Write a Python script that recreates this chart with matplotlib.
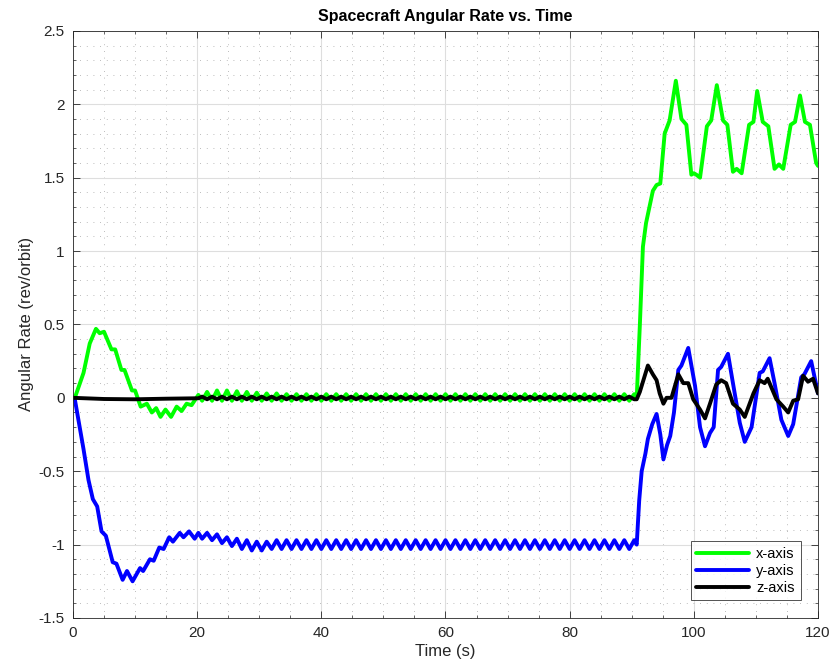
import numpy as np
import matplotlib
matplotlib.use("Agg")
import matplotlib.pyplot as plt
from matplotlib.ticker import MultipleLocator

plt.rcParams["font.family"] = ["Liberation Sans", "DejaVu Sans"]

# start-up transient (0-20 s)
t_x_early = [0, 0.3, 1.7, 2.7, 3.7, 4.3, 5.0, 6.2, 6.8, 7.8, 8.3, 9.5, 10.0, 10.9,
             11.9, 12.7, 13.4, 14.1, 14.9, 15.8, 16.7, 17.5, 18.3, 19.1, 20.2]
x_early = [0, 0.0, 0.17, 0.37, 0.47, 0.44, 0.45, 0.33, 0.33, 0.19, 0.19, 0.05, 0.05, -0.06,
           -0.04, -0.10, -0.07, -0.13, -0.08, -0.13, -0.06, -0.09, -0.04, -0.05, 0.02]

t_y_early = [0, 0.3, 1.7, 2.5, 3.2, 3.9, 4.6, 5.3, 6.4, 7.0, 8.0, 8.7, 9.6, 10.8,
             11.3, 12.4, 13.0, 13.9, 14.6, 15.5, 16.1, 17.2, 17.8, 18.7, 19.6, 20.2]
y_early = [0, -0.01, -0.35, -0.56, -0.69, -0.74, -0.91, -0.94, -1.12, -1.13, -1.24, -1.18,
           -1.25, -1.16, -1.18, -1.10, -1.11, -1.02, -1.03, -0.95, -0.98, -0.92, -0.95,
           -0.91, -0.96, -0.92]

t_z_early = [0, 5.0, 10.0, 15.0, 20.2]
z_early = [0, -0.008, -0.01, -0.006, -0.003]

# steady ripple (20-90 s), peaks and troughs
t_mid = [20.8, 21.6, 22.4, 23.2, 24.0, 24.8, 25.6, 26.4,
         27.2, 28.0, 28.8, 29.6, 30.4, 31.2, 32.0, 32.8,
         33.6, 34.4, 35.2, 36.0, 36.8, 37.6, 38.4, 39.2,
         40.0, 40.8, 41.6, 42.4, 43.2, 44.0, 44.8, 45.6,
         46.4, 47.2, 48.0, 48.8, 49.6, 50.4, 51.2, 52.0,
         52.8, 53.6, 54.4, 55.2, 56.0, 56.8, 57.6, 58.4,
         59.2, 60.0, 60.8, 61.6, 62.4, 63.2, 64.0, 64.8,
         65.6, 66.4, 67.2, 68.0, 68.8, 69.6, 70.4, 71.2,
         72.0, 72.8, 73.6, 74.4, 75.2, 76.0, 76.8, 77.6,
         78.4, 79.2, 80.0, 80.8, 81.6, 82.4, 83.2, 84.0,
         84.8, 85.6, 86.4, 87.2, 88.0, 88.8, 89.6, 90.4]
x_mid = [-0.02, 0.04, -0.02, 0.05, -0.02, 0.05, -0.02, 0.045,
         -0.02, 0.04, -0.02, 0.035, -0.02, 0.03, -0.02, 0.03,
         -0.02, 0.025, -0.02, 0.025, -0.02, 0.025, -0.02, 0.025,
         -0.02, 0.025, -0.02, 0.025, -0.02, 0.025, -0.02, 0.025,
         -0.02, 0.025, -0.02, 0.025, -0.02, 0.025, -0.02, 0.025,
         -0.02, 0.025, -0.02, 0.025, -0.02, 0.025, -0.02, 0.025,
         -0.02, 0.025, -0.02, 0.025, -0.02, 0.025, -0.02, 0.025,
         -0.02, 0.025, -0.02, 0.025, -0.02, 0.025, -0.02, 0.025,
         -0.02, 0.025, -0.02, 0.025, -0.02, 0.025, -0.02, 0.025,
         -0.02, 0.025, -0.02, 0.025, -0.02, 0.025, -0.02, 0.025,
         -0.02, 0.025, -0.02, 0.025, -0.02, 0.025, -0.02, 0.025]
y_mid = [-0.96, -0.92, -0.97, -0.93, -0.99, -0.95, -1.01, -0.96,
         -1.03, -0.97, -1.04, -0.98, -1.04, -0.98, -1.03, -0.97,
         -1.03, -0.97, -1.03, -0.97, -1.03, -0.97, -1.03, -0.97,
         -1.03, -0.97, -1.03, -0.97, -1.03, -0.97, -1.03, -0.97,
         -1.03, -0.97, -1.03, -0.97, -1.03, -0.97, -1.03, -0.97,
         -1.03, -0.97, -1.03, -0.97, -1.03, -0.97, -1.03, -0.97,
         -1.03, -0.97, -1.03, -0.97, -1.03, -0.97, -1.03, -0.97,
         -1.03, -0.97, -1.03, -0.97, -1.03, -0.97, -1.03, -0.97,
         -1.03, -0.97, -1.03, -0.97, -1.03, -0.97, -1.03, -0.97,
         -1.03, -0.97, -1.03, -0.97, -1.03, -0.97, -1.03, -0.97,
         -1.03, -0.97, -1.03, -0.97, -1.03, -0.97, -1.03, -0.97]
z_mid = [0.008, -0.01, 0.008, -0.01, 0.008, -0.01, 0.008, -0.01,
         0.008, -0.01, 0.008, -0.01, 0.008, -0.01, 0.008, -0.01,
         0.008, -0.01, 0.008, -0.01, 0.008, -0.01, 0.008, -0.01,
         0.008, -0.01, 0.008, -0.01, 0.008, -0.01, 0.008, -0.01,
         0.008, -0.01, 0.008, -0.01, 0.008, -0.01, 0.008, -0.01,
         0.008, -0.01, 0.008, -0.01, 0.008, -0.01, 0.008, -0.01,
         0.008, -0.01, 0.008, -0.01, 0.008, -0.01, 0.008, -0.01,
         0.008, -0.01, 0.008, -0.01, 0.008, -0.01, 0.008, -0.01,
         0.008, -0.01, 0.008, -0.01, 0.008, -0.01, 0.008, -0.01,
         0.008, -0.01, 0.008, -0.01, 0.008, -0.01, 0.008, -0.01,
         0.008, -0.01, 0.008, -0.01, 0.008, -0.01, 0.008, -0.01]

# manoeuvre and oscillation (90-120 s)
t_x_late = [90.8, 91.3, 91.8, 92.3, 93.4, 94.0, 94.6, 95.3, 96.1, 97.1, 98.0, 98.8,
            99.6, 100.0, 100.4, 101.0, 102.1, 102.8, 103.7, 104.7, 105.4, 106.3,
            106.9, 107.7, 108.9, 109.6, 110.2, 111.1, 112.0, 113.0, 113.7, 114.4,
            115.6, 116.3, 117.1, 117.9, 118.7, 119.7, 120.0]
x_late = [0.0, 0.49, 1.03, 1.19, 1.41, 1.45, 1.46, 1.80, 1.89, 2.16, 1.90, 1.86,
          1.52, 1.53, 1.52, 1.50, 1.85, 1.89, 2.13, 1.89, 1.86, 1.54,
          1.56, 1.53, 1.86, 1.88, 2.09, 1.88, 1.85, 1.56, 1.59, 1.56,
          1.86, 1.88, 2.06, 1.88, 1.86, 1.60, 1.58]

t_y_late = [90.8, 91.2, 91.6, 92.2, 92.6, 93.3, 94.0, 94.6, 95.1, 95.7, 96.2, 96.8,
            97.5, 98.0, 99.1, 100.2, 101.0, 101.8, 102.6, 103.2, 103.9, 104.4,
            105.5, 106.3, 107.4, 108.2, 109.3, 110.6, 111.1, 112.2, 113.0, 114.1,
            115.2, 116.0, 117.3, 117.8, 118.9, 120.0]
y_late = [-1.0, -0.70, -0.50, -0.38, -0.28, -0.18, -0.11, -0.25, -0.42, -0.32, -0.26, -0.10,
          0.19, 0.22, 0.34, 0.08, -0.20, -0.33, -0.24, -0.20, 0.19, 0.21,
          0.30, 0.10, -0.17, -0.30, -0.20, 0.17, 0.18, 0.27, 0.10, -0.15,
          -0.26, -0.18, 0.14, 0.16, 0.25, 0.03]

t_z_late = [90.8, 91.3, 92.6, 93.4, 94.0, 94.5, 95.1, 95.6, 96.4, 97.5, 98.3, 99.1,
            99.9, 101.0, 101.8, 102.6, 103.6, 104.4, 105.2, 106.3, 107.4, 108.2,
            109.6, 110.6, 111.4, 111.9, 113.3, 114.4, 115.2, 116.0, 116.8, 117.6,
            118.4, 119.2, 120.0]
z_late = [-0.01, 0.04, 0.22, 0.16, 0.12, 0.03, -0.04, 0.0, 0.0, 0.16, 0.10, 0.10,
          -0.01, -0.08, -0.14, -0.04, 0.09, 0.12, 0.10, -0.04, -0.08, -0.13,
          0.03, 0.12, 0.10, 0.13, -0.01, -0.06, -0.10, -0.02, -0.01, 0.15,
          0.11, 0.13, 0.03]

tx = t_x_early + t_mid + t_x_late
wx = x_early + x_mid + x_late
ty = t_y_early + t_mid + t_y_late
wy = y_early + y_mid + y_late
tz = t_z_early + t_mid + t_z_late
wz = z_early + z_mid + z_late

fig = plt.figure(figsize=(8.33, 6.71), dpi=100)
ax = fig.add_axes([0.0876, 0.079, 0.8944, 0.875])

style = dict(lw=2.8, solid_joinstyle="round", solid_capstyle="round")
ax.plot(tx, wx, color=(0, 1, 0), label="x-axis", **style)
ax.plot(ty, wy, color=(0, 0, 1), label="y-axis", **style)
ax.plot(tz, wz, color="black", label="z-axis", **style)

ax.set_xlim(0, 120)
ax.set_ylim(-1.5, 2.5)
ax.xaxis.set_major_locator(MultipleLocator(20))
ax.xaxis.set_minor_locator(MultipleLocator(5))
ax.yaxis.set_minor_locator(MultipleLocator(0.1))
ax.set_yticks(np.arange(-1.5, 2.51, 0.5))
ax.set_yticklabels(["-1.5", "-1", "-0.5", "0", "0.5", "1", "1.5", "2", "2.5"])

ax.grid(which="major", color="0.87", lw=0.8, ls="-")
ax.grid(which="minor", color="0.65", lw=0.6, ls=(0, (1, 7)))
ax.set_axisbelow(True)

ax.tick_params(which="both", direction="in", top=True, right=True,
               colors="0.15", labelsize=11, pad=6)
ax.tick_params(which="major", length=5, width=0.6)
ax.tick_params(which="minor", length=2.5, width=0.5)
for s in ax.spines.values():
    s.set_color("0.15")
    s.set_linewidth(0.6)

ax.set_title("Spacecraft Angular Rate vs. Time", fontsize=11.5, fontweight="bold", pad=7)
ax.set_xlabel("Time (s)", fontsize=12, color="0.15", labelpad=3)
ax.set_ylabel("Angular Rate (rev/orbit)", fontsize=12, color="0.15", labelpad=3)

leg = ax.legend(loc="lower right", fontsize=10.5, handlelength=3.6, frameon=True,
                fancybox=False, borderaxespad=1.2, handletextpad=0.5,
                borderpad=0.4, labelspacing=0.2)
leg.get_frame().set_edgecolor("0.15")
leg.get_frame().set_linewidth(0.7)

fig.savefig("out.png", dpi=100)
